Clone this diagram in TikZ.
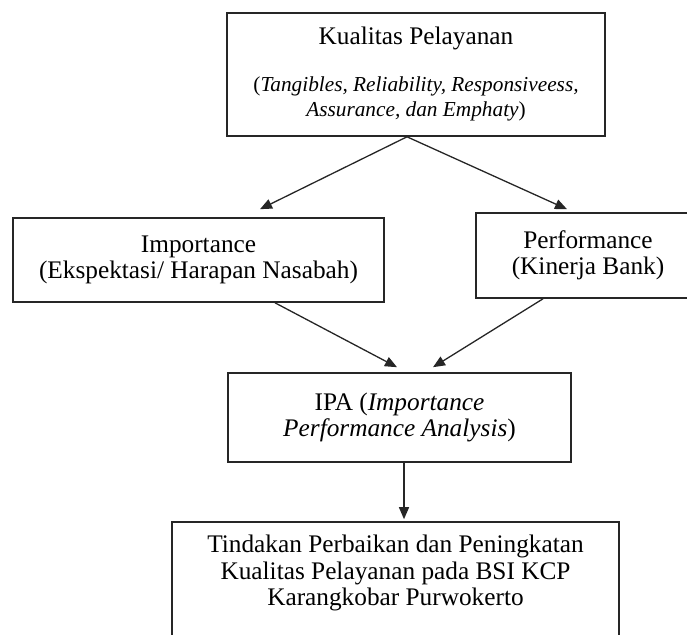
\documentclass[tikz,border=0pt]{standalone}
\usepackage{fontspec}
\setmainfont{Liberation Serif}
\usetikzlibrary{arrows.meta,calc}
\begin{document}
\begin{tikzpicture}[x=1pt,y=-1pt,
  box/.style={draw=black!85, line width=1.6pt, align=center, inner sep=0pt,
    font=\fontsize{25.3}{26.5}\selectfont},
  arr/.style={draw=black!85, line width=1.3pt, -{Triangle[length=12pt,width=10pt]}}]
\useasboundingbox (0,0) rectangle (687,634);
\node[box, minimum width=378, minimum height=123, font=\fontsize{21.3}{25.5}\selectfont] (kp) at (416,74.5)
  {\fontsize{25.3}{26}\selectfont Kualitas Pelayanan\\[21pt]
   (\textit{Tangibles, Reliability, Responsiveess,}\\
   \textit{Assurance, dan Emphaty})};
\node[box, minimum width=371, minimum height=84] (imp) at (198.5,260)
  {Importance\\(Ekspektasi/ Harapan Nasabah)};
\node[box, minimum width=224, minimum height=85] (perf) at (588,255.5)
  {Performance\\(Kinerja Bank)};
\node[box, minimum width=343, minimum height=89] (ipa) at (399.5,417.5)
  {IPA (\textit{Importance}\\\textit{Performance Analysis})};
\node[box, draw=none, minimum width=445, minimum height=100] (act) at (395.5,573)
  {Tindakan Perbaikan dan Peningkatan\\Kualitas Pelayanan pada BSI KCP\\Karangkobar Purwokerto};
\draw[draw=black!85, line width=1.6pt] ($(act.south west)+(0,40)$) -- (act.north west) -- (act.north east) -- ($(act.south east)+(0,40)$);
\draw[arr] ($(kp.south)+(-9,0)$) -- ($(imp.north)+(61.5,-8)$);
\draw[arr] ($(kp.south)+(-9,0)$) -- ($(perf.north)+(-21,-3)$);
\draw[arr] ($(imp.south)+(76.5,0)$) -- ($(ipa.north)+(-2.5,-5)$);
\draw[arr] ($(perf.south)+(-45,0)$) -- ($(ipa.north)+(33.5,-5)$);
\draw[arr] ($(ipa.south)+(4.5,0)$) -- ($(act.north)+(8.5,-3)$);
\end{tikzpicture}
\end{document}
